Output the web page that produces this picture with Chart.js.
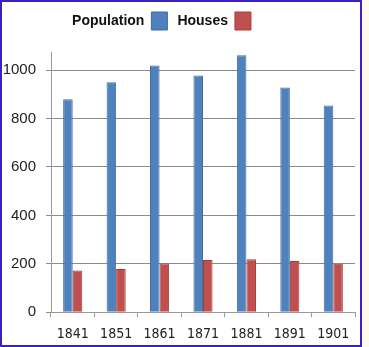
<!DOCTYPE html>
<html>
<head>
<meta charset="utf-8">
<script src="https://cdn.jsdelivr.net/npm/chart.js@4.4.1/dist/chart.umd.min.js"></script>
<style>
  html, body { margin: 0; padding: 0; background: #fffbea; }
  #frame {
    position: absolute; left: 0; top: 0;
    width: 362px; height: 347px;
    box-sizing: border-box;
    border: 2px solid #3a22c0;
    background: #ffffff;
  }
  #chart { display: block; }
</style>
</head>
<body>
<div id="frame"><canvas id="chart" width="358" height="343"></canvas></div>
<script>
// census figures
const years = ["1841", "1851", "1861", "1871", "1881", "1891", "1901"];
const population = [880, 950, 1019, 978, 1062, 928, 854];
const houses = [172, 178, 201, 216, 219, 212, 200];
const yTicks = [0, 200, 400, 600, 800, 1000];

// legend sits a bit left of centre, with a gap under it
const legendNudge = {
    id: "legendNudge",
    afterInit(chart) {
        const legend = chart.legend;
        const fit = legend.fit.bind(legend);
        legend.fit = function () {
            fit();
            this.height += 12;
        };
    },
    afterLayout(chart) {
        chart.legend.left -= 18;
        chart.legend.right -= 18;
    }
};

const ctx = document.getElementById("chart");

new Chart(ctx, {
    type: "bar",
    data: {
        labels: years,
        datasets: [{
            label: "Population",
            data: population,
            backgroundColor: "#4f81bd",
            borderColor: "#3e6ca6",
            borderWidth: 1
        }, {
            label: "Houses",
            data: houses,
            backgroundColor: "#c0504d",
            borderColor: "#a83b38",
            borderWidth: 1
        }]
    },
    plugins: [legendNudge],
    options: {
        responsive: false,
        animation: false,
        layout: {
            padding: { left: 2, right: 5, top: 0, bottom: -7 }
        },
        datasets: {
            bar: {
                categoryPercentage: 0.44,
                barPercentage: 1.0
            }
        },
        scales: {
            x: {
                grid: {
                    display: true,
                    drawOnChartArea: false,
                    color: "#999",
                    tickLength: 5
                },
                border: { color: "#999" },
                ticks: {
                    color: "#222",
                    padding: 9,
                    font: { family: "'DejaVu Sans Condensed', sans-serif", size: 14 }
                }
            },
            y: {
                min: 0,
                max: 1075,
                afterBuildTicks: (axis) => {
                    axis.ticks = yTicks.map(v => ({ value: v }));
                },
                afterFit: (axis) => {
                    axis.width = 47;
                },
                grid: {
                    color: "#8c8c8c",
                    tickLength: 5
                },
                border: { color: "#999" },
                ticks: {
                    color: "#222",
                    padding: 10,
                    callback: (v) => String(v),
                    font: { family: "'Liberation Sans', sans-serif", size: 15 }
                }
            }
        },
        plugins: {
            legend: {
                position: "top",
                rtl: true,
                reverse: true,
                labels: {
                    boxWidth: 16,
                    boxHeight: 18,
                    padding: 10,
                    color: "#111",
                    font: { family: "'Liberation Sans', sans-serif", size: 14, weight: "bold" }
                }
            },
            tooltip: { enabled: false }
        }
    }
});
</script>
</body>
</html>
